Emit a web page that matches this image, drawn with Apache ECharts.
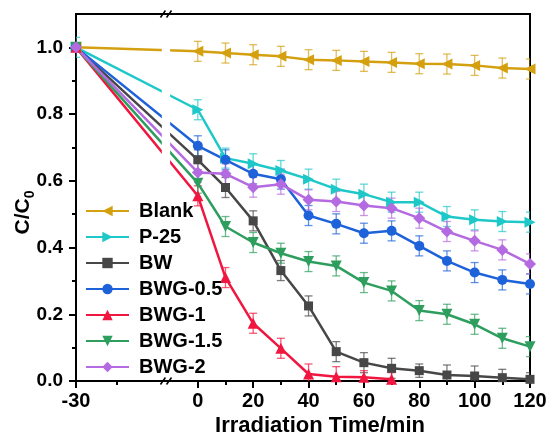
<!DOCTYPE html>
<html><head><meta charset="utf-8">
<script src="https://cdn.jsdelivr.net/npm/echarts@6/dist/echarts.min.js"></script>
<style>html,body{margin:0;padding:0;background:#fff}#c{width:550px;height:434px}</style>
</head><body><div id="c"></div>
<script>
// ---- data ----
const times = [-30, 0, 10, 20, 30, 40, 50, 60, 70, 80, 90, 100, 110, 120];
const blank   = [1.00, 0.988, 0.983, 0.978, 0.973, 0.963, 0.961, 0.958, 0.955, 0.951, 0.950, 0.946, 0.938, 0.935];
const p25     = [1.00, 0.813, 0.668, 0.651, 0.631, 0.605, 0.575, 0.560, 0.536, 0.536, 0.493, 0.483, 0.478, 0.476];
const bw      = [1.00, 0.663, 0.580, 0.480, 0.331, 0.225, 0.088, 0.055, 0.038, 0.031, 0.018, 0.015, 0.010, 0.005];
const bwg05   = [1.00, 0.705, 0.663, 0.621, 0.605, 0.496, 0.471, 0.443, 0.450, 0.405, 0.360, 0.325, 0.303, 0.291];
const bwg1    = [1.00, 0.555, 0.310, 0.173, 0.098, 0.021, 0.013, 0.011, 0.005, null, null, null, null, null];
const bwg15   = [1.00, 0.593, 0.463, 0.415, 0.383, 0.358, 0.345, 0.295, 0.270, 0.211, 0.200, 0.170, 0.128, 0.103];
const bwg2    = [1.00, 0.625, 0.621, 0.581, 0.590, 0.543, 0.538, 0.526, 0.518, 0.488, 0.448, 0.420, 0.393, 0.351];

const blankErr = [0, 0.03, 0.03, 0.03, 0.03, 0.03, 0.03, 0.03, 0.03, 0.03, 0.03, 0.03, 0.03, 0.03];
const p25Err   = [0.03, 0.03, 0.03, 0.03, 0.03, 0.03, 0.03, 0.03, 0.03, 0.03, 0.03, 0.03, 0.03, 0.03];
const bwErr    = [0, 0.03, 0.03, 0.03, 0.03, 0.03, 0.03, 0.03, 0.03, 0.02, 0.03, 0.03, 0.025, 0.02];
const bwg05Err = [0, 0.03, 0.03, 0.03, 0.03, 0.03, 0.03, 0.03, 0.03, 0.03, 0.03, 0.03, 0.03, 0.03];
const bwg1Err  = [0, 0.03, 0.03, 0.03, 0.03, 0.03, 0.03, 0.02, 0.02, null, null, null, null, null];
const bwg15Err = [0, 0.03, 0.03, 0.03, 0.03, 0.03, 0.03, 0.03, 0.03, 0.03, 0.03, 0.03, 0.03, 0.03];
const bwg2Err  = [0, 0.03, 0.03, 0.03, 0.03, 0.03, 0.03, 0.03, 0.03, 0.03, 0.03, 0.03, 0.03, 0.03];

const xMajorTicks = [-30, 0, 20, 40, 60, 80, 100, 120];
const xMinorTicks = [-20, 10, 30, 50, 70, 90, 110];
const yMajorTicks = [0, 0.2, 0.4, 0.6, 0.8, 1.0];
const yMinorTicks = [0.1, 0.3, 0.5, 0.7, 0.9];

// broken axis: the pre-break segment (-30..0) is stretched
const PRE_SCALE = 44 / 30;
const xPos = t => (t < 0 ? t * PRE_SCALE : t);
const BREAK_FROM = -13, BREAK_TO = -10; // break position on axis scale

const FONT = 'Liberation Sans, Arial, sans-serif';

const defs = [
  { name: 'Blank',   v: blank, e: blankErr, color: '#D4A00F', symbol: 'triangle', rot: 90,  size: 11 },
  { name: 'P-25',    v: p25,   e: p25Err,   color: '#1FC8C8', symbol: 'triangle', rot: -90, size: 11 },
  { name: 'BW',      v: bw,    e: bwErr,    color: '#474747', symbol: 'rect',     rot: 0,   size: 9 },
  { name: 'BWG-0.5', v: bwg05, e: bwg05Err, color: '#1E62D9', symbol: 'circle',   rot: 0,   size: 10 },
  { name: 'BWG-1',   v: bwg1,  e: bwg1Err,  color: '#F0163F', symbol: 'triangle', rot: 0,   size: 11 },
  { name: 'BWG-1.5', v: bwg15, e: bwg15Err, color: '#2E9E5E', symbol: 'triangle', rot: 180, size: 11 },
  { name: 'BWG-2',   v: bwg2,  e: bwg2Err,  color: '#B46AE0', symbol: 'diamond',  rot: 0,   size: 12 }
];

const series = [];
defs.forEach(d => {
  const pts = [];
  const errs = [];
  times.forEach((t, i) => {
    if (d.v[i] == null) return;
    pts.push([xPos(t), d.v[i]]);
    if (d.e[i]) errs.push([xPos(t), d.v[i], d.e[i]]);
  });
  series.push({
    type: 'custom', name: d.name + '-err', xAxisIndex: 0, yAxisIndex: 0, z: 2, clip: true,
    data: errs, silent: true,
    renderItem: (params, api) => {
      const x = api.value(0), y = api.value(1), e = api.value(2);
      const a = api.coord([x, y + e]), b = api.coord([x, y - e]);
      const st = { stroke: d.color, lineWidth: 1.3, opacity: 0.7 };
      const c = 4;
      return { type: 'group', children: [
        { type: 'line', shape: { x1: a[0], y1: a[1], x2: b[0], y2: b[1] }, style: st },
        { type: 'line', shape: { x1: a[0] - c, y1: a[1], x2: a[0] + c, y2: a[1] }, style: st },
        { type: 'line', shape: { x1: b[0] - c, y1: b[1], x2: b[0] + c, y2: b[1] }, style: st }
      ]};
    }
  });
  series.push({
    type: 'line', name: d.name, data: pts, xAxisIndex: 0, yAxisIndex: 0, z: 3,
    symbol: d.symbol, symbolSize: d.size, symbolRotate: d.rot, showAllSymbol: true,
    itemStyle: { color: d.color }, lineStyle: { color: d.color, width: 2.5 },
    emphasis: { disabled: true }, animation: false
  });
});

// break gap in the lines + break marks on the axes
series.push({
  type: 'custom', name: 'break', xAxisIndex: 0, yAxisIndex: 0, z: 10, clip: false, silent: true,
  data: [[BREAK_FROM, BREAK_TO]],
  renderItem: (params, api) => {
    const p1 = api.coord([api.value(0), 1.09]);
    const p2 = api.coord([api.value(1), 0.012]);
    const children = [{ type: 'rect', shape: { x: p1[0], y: p1[1], width: p2[0] - p1[0], height: p2[1] - p1[1] }, style: { fill: '#fff' } }];
    [0, 1.1].forEach(yv => {
      [api.value(0) + 0.4, api.value(1) - 0.4].forEach(xv => {
        const p = api.coord([xv, yv]);
        children.push({ type: 'line', shape: { x1: p[0] - 2.5, y1: p[1] + 3.5, x2: p[0] + 2.5, y2: p[1] - 3.5 }, style: { stroke: '#000', lineWidth: 1.5 } });
      });
    });
    return { type: 'group', children };
  }
});

const xLabelFor = v => {
  const i = xMajorTicks.findIndex(t => Math.abs(xPos(t) - v) < 1e-6);
  return i >= 0 ? String(xMajorTicks[i]) : '';
};

const chart = echarts.init(document.getElementById('c'), null, { renderer: 'canvas' });
chart.setOption({
  animation: false,
  backgroundColor: '#fff',
  grid: { left: 76, right: 20, top: 14, bottom: 53, show: true, borderColor: '#000', borderWidth: 2, backgroundColor: 'transparent', outerBoundsMode: 'none', containLabel: false },
  legend: {
    data: defs.map(d => d.name), orient: 'vertical', left: 80, top: 196, z: 20,
    itemWidth: 43, itemHeight: 13, itemGap: 6, selectedMode: false,
    textStyle: { fontFamily: FONT, fontSize: 20, fontWeight: 'bold', color: '#000', padding: [0, 0, 0, 5] }
  },
  xAxis: [{
    type: 'value', min: xPos(-30), max: 120, position: 'bottom',
    name: 'Irradiation Time/min', nameLocation: 'middle', nameGap: 34, nameMoveOverlap: false,
    nameTextStyle: { fontFamily: FONT, fontSize: 22, fontWeight: 'bold', color: '#000', padding: [0, 0, 0, 34] },
    axisLine: { show: true, onZero: false, lineStyle: { color: '#000', width: 2 } },
    axisTick: { show: true, customValues: xMajorTicks.map(xPos), length: 7, lineStyle: { color: '#000', width: 2 } },
    axisLabel: { customValues: xMajorTicks.map(xPos), formatter: xLabelFor, margin: 10, fontFamily: FONT, fontSize: 20, fontWeight: 'bold', color: '#000' },
    splitLine: { show: false }
  }, {
    type: 'value', min: xPos(-30), max: 120, position: 'bottom', gridIndex: 0,
    axisLine: { show: false, onZero: false },
    axisTick: { show: true, customValues: xMinorTicks.map(xPos), length: 4, lineStyle: { color: '#000', width: 2 } },
    axisLabel: { show: false }, splitLine: { show: false }
  }],
  yAxis: [{
    type: 'value', min: 0, max: 1.1, position: 'left',
    name: '{a|C/C}{b|0}', nameLocation: 'middle', nameGap: 39, nameMoveOverlap: false,
    nameTextStyle: {
      padding: [0, 30, 0, 0],
      rich: {
        a: { fontFamily: FONT, fontSize: 21, fontWeight: 'bold', color: '#000', verticalAlign: 'bottom', padding: [0, 0, 3, 0] },
        b: { fontFamily: FONT, fontSize: 14, fontWeight: 'bold', color: '#000', verticalAlign: 'bottom' }
      }
    },
    axisLine: { show: true, onZero: false, lineStyle: { color: '#000', width: 2 } },
    axisTick: { show: true, customValues: yMajorTicks, length: 7, lineStyle: { color: '#000', width: 2 } },
    axisLabel: { customValues: yMajorTicks, formatter: v => v.toFixed(1), margin: 13, fontFamily: FONT, fontSize: 19, fontWeight: 'bold', color: '#000' },
    splitLine: { show: false }
  }, {
    type: 'value', min: 0, max: 1.1, position: 'left', gridIndex: 0,
    axisLine: { show: false, onZero: false },
    axisTick: { show: true, customValues: yMinorTicks, length: 4, lineStyle: { color: '#000', width: 2 } },
    axisLabel: { show: false }, splitLine: { show: false }
  }],
  series
});
</script></body></html>
